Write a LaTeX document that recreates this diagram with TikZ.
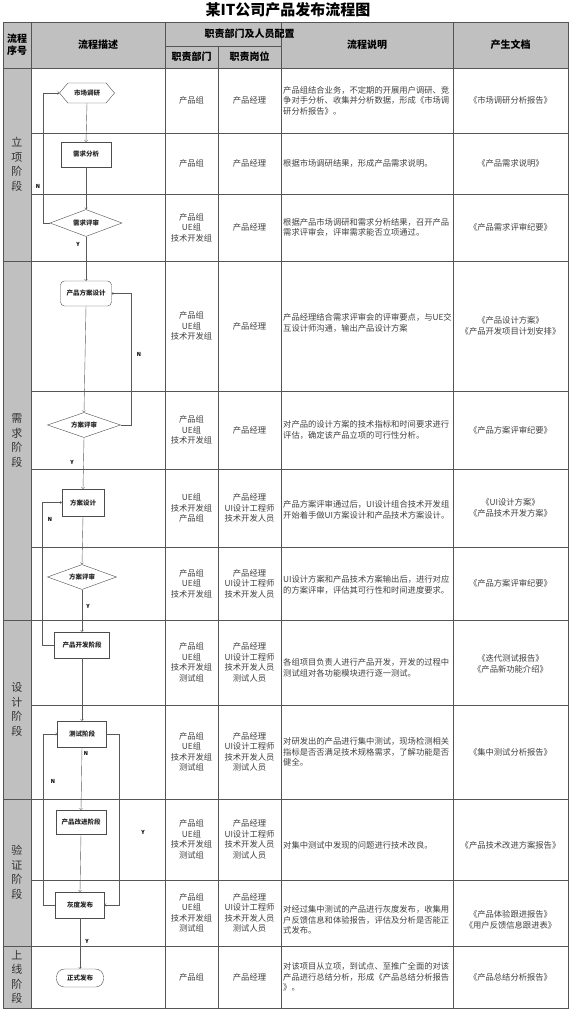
\documentclass[tikz,border=0pt]{standalone}
\usepackage{fontspec}
\setmainfont{Noto Sans CJK SC}
\usetikzlibrary{shapes.geometric,shapes.symbols}
\definecolor{headgray}{RGB}{192,192,192}
\definecolor{linegray}{RGB}{85,85,85}
\def\celltext{\fontsize{8.3}{10.5}\selectfont}
\def\flowtext{\fontsize{6.5}{7}\selectfont\bfseries}
\def\groups{产品组\\UE组\\技术开发组\\测试组}
\def\staff{产品经理\\UI设计工程师\\技术开发人员\\测试人员}

\begin{document}
\begin{tikzpicture}[x=1pt,y=-1pt,
    cell/.style={text=black!75, align=center, font=\celltext, inner sep=1pt},
    desc/.style={cell, align=left, anchor=west},
    head/.style={align=center, font=\fontsize{10}{12}\selectfont\bfseries},
    stage/.style={align=center, text=black!80, font=\fontsize{11}{14.5}\selectfont},
    procbox/.style={draw=black!70, fill=white, text=black!85, font=\flowtext, inner sep=0pt},
    decision/.style={procbox, diamond, aspect=2.7},
    marketbox/.style={procbox, signal, signal to=west and east, signal pointer angle=100},
    flowline/.style={draw=black!65, ->},
    yn/.style={font=\fontsize{5.5}{6}\selectfont\bfseries, inner sep=0pt}]
        \useasboundingbox (0,0) rectangle (577,1011);

        \node[font=\fontsize{15}{16}\selectfont\bfseries] (title) at (288,10) {某IT公司产品发布流程图};

        \begin{scope}
            \fill[headgray] (3,22) rectangle (568,68);
            \fill[headgray] (3,68) rectangle (31,1008);
        \end{scope}

        \begin{scope}[draw=linegray, line width=0.8pt]
            \draw (3,22) rectangle (568,1008);
            \draw (31,22) -- (31,1008);
            \draw (165,22) -- (165,1008);
            \draw (218,46) -- (218,1008);
            \draw (281,22) -- (281,1008);
            \draw (453,22) -- (453,1008);
            \draw (165,46) -- (281,46);
            \draw (3,68) -- (568,68);
            \draw (31,133) -- (568,133);
            \draw (31,194) -- (568,194);
            \draw (3,261) -- (568,261);
            \draw (31,391) -- (568,391);
            \draw (31,469) -- (568,469);
            \draw (31,547) -- (568,547);
            \draw (3,620) -- (568,620);
            \draw (31,705) -- (568,705);
            \draw (3,799) -- (568,799);
            \draw (31,880) -- (568,880);
            \draw (3,946) -- (568,946);
        \end{scope}

        \node[head] (hseq) at (17,45) {流程\\序号};
        \node[head] (hflow) at (98,45) {流程描述};
        \node[head] (hduty) at (249.5,34) {职责部门及人员配置};
        \node[head] (hdept) at (191.5,57) {职责部门};
        \node[head] (hpost) at (249.5,57) {职责岗位};
        \node[head] (hdesc) at (367,45) {流程说明};
        \node[head] (hdoc) at (510.5,45) {产生文档};

        \node[stage] (lixiang) at (17,164.5) {立\\项\\阶\\段};
        \node[stage] (xuqiu) at (17,440.5) {需\\求\\阶\\段};
        \node[stage] (sheji) at (17,709.5) {设\\计\\阶\\段};
        \node[stage] (yanzheng) at (17,872.5) {验\\证\\阶\\段};
        \node[stage] (shangxian) at (17,977) {上\\线\\阶\\段};

        \node[cell] (dept1) at (191.5,100.5) {产品组};
        \node[cell] (post1) at (249.5,100.5) {产品经理};
        \node[desc] (desc1) at (282,100.5) {产品组结合业务，不定期的开展用户调研、竞\\争对手分析、收集并分析数据，形成《市场调\\研分析报告》。};
        \node[cell] (doc1) at (510.5,100.5) {《市场调研分析报告》};

        \node[cell] (dept2) at (191.5,163.5) {产品组};
        \node[cell] (post2) at (249.5,163.5) {产品经理};
        \node[desc] (desc2) at (282,163.5) {根据市场调研结果，形成产品需求说明。};
        \node[cell] (doc2) at (510.5,163.5) {《产品需求说明》};

        \node[cell] (dept3) at (191.5,227.5) {产品组\\UE组\\技术开发组};
        \node[cell] (post3) at (249.5,227.5) {产品经理};
        \node[desc] (desc3) at (282,227.5) {根据产品市场调研和需求分析结果，召开产品\\需求评审会，评审需求能否立项通过。};
        \node[cell] (doc3) at (510.5,227.5) {《产品需求评审纪要》};

        \node[cell] (dept4) at (191.5,326) {产品组\\UE组\\技术开发组};
        \node[cell] (post4) at (249.5,326) {产品经理};
        \node[desc] (desc4) at (282,323) {产品经理结合需求评审会的评审要点，与UE交\\互设计师沟通，输出产品设计方案};
        \node[cell] (doc4) at (510.5,326) {《产品设计方案》\\《产品开发项目计划安排》};

        \node[cell] (dept5) at (191.5,430) {产品组\\UE组\\技术开发组};
        \node[cell] (post5) at (249.5,430) {产品经理};
        \node[desc] (desc5) at (282,430) {对产品的设计方案的技术指标和时间要求进行\\评估，确定该产品立项的可行性分析。};
        \node[cell] (doc5) at (510.5,430) {《产品方案评审纪要》};

        \node[cell] (dept6) at (191.5,508) {UE组\\技术开发组\\产品组};
        \node[cell] (post6) at (249.5,508) {产品经理\\UI设计工程师\\技术开发人员};
        \node[desc] (desc6) at (282,510) {产品方案评审通过后，UI设计组合技术开发组\\开始着手做UI方案设计和产品技术方案设计。};
        \node[cell] (doc6) at (510.5,508) {《UI设计方案》\\《产品技术开发方案》};

        \node[cell] (dept7) at (191.5,583.5) {产品组\\UE组\\技术开发组};
        \node[cell] (post7) at (249.5,583.5) {产品经理\\UI设计工程师\\技术开发人员};
        \node[desc] (desc7) at (282,585) {UI设计方案和产品技术方案输出后，进行对应\\的方案评审，评估其可行性和时间进度要求。};
        \node[cell] (doc7) at (510.5,583.5) {《产品方案评审纪要》};

        \node[cell] (dept8) at (191.5,662.5) {\groups};
        \node[cell] (post8) at (249.5,662.5) {\staff};
        \node[desc] (desc8) at (282,668) {各组项目负责人进行产品开发，开发的过程中\\测试组对各功能模块进行逐一测试。};
        \node[cell] (doc8) at (510.5,664) {《迭代测试报告》\\《产品新功能介绍》};

        \node[cell] (dept9) at (191.5,752) {\groups};
        \node[cell] (post9) at (249.5,752) {\staff};
        \node[desc] (desc9) at (282,752) {对研发出的产品进行集中测试，现场检测相关\\指标是否否满足技术规格需求，了解功能是否\\健全。};
        \node[cell] (doc9) at (510.5,752) {《集中测试分析报告》};

        \node[cell] (dept10) at (191.5,839.5) {\groups};
        \node[cell] (post10) at (249.5,839.5) {\staff};
        \node[desc] (desc10) at (282,845) {对集中测试中发现的问题进行技术改良。};
        \node[cell] (doc10) at (510.5,845) {《产品技术改进方案报告》};

        \node[cell] (dept11) at (191.5,913) {\groups};
        \node[cell] (post11) at (249.5,913) {\staff};
        \node[desc] (desc11) at (282,920) {对经过集中测试的产品进行灰度发布，收集用\\户反馈信息和体验报告，评估及分析是否能正\\式发布。};
        \node[cell] (doc11) at (510.5,920) {《产品体验跟进报告》\\《用户反馈信息跟进表》};

        \node[cell] (dept12) at (191.5,977) {产品组};
        \node[cell] (post12) at (249.5,977) {产品经理};
        \node[desc] (desc12) at (282,977) {对该项目从立项，到试点、至推广全面的对该\\产品进行总结分析，形成《产品总结分析报告\\》。};
        \node[cell] (doc12) at (510.5,977) {《产品总结分析报告》};

        \node[marketbox, minimum width=55pt, minimum height=20pt] (scdy) at (87,93) {市场调研};
        \node[procbox, minimum width=50pt, minimum height=25pt] (xqfx) at (86,154.5) {需求分析};
        \node[decision, minimum width=72pt, minimum height=27pt] (xqps) at (86,223) {需求评审};
        \node[procbox, rounded corners=4pt, minimum width=51pt, minimum height=25pt] (cpfa) at (86,293.5) {产品方案设计};
        \node[decision, minimum width=73pt, minimum height=25pt] (faps) at (84,425) {方案评审};
        \node[procbox, minimum width=42pt, minimum height=27pt] (fasj) at (83,502.5) {方案设计};
        \node[decision, minimum width=69pt, minimum height=25pt] (fapsb) at (82,577) {方案评审};
        \node[procbox, minimum width=55pt, minimum height=26pt] (kfjd) at (82,645) {产品开发阶段};
        \node[procbox, minimum width=49pt, minimum height=26pt] (csjd) at (82,734) {测试阶段};
        \node[procbox, minimum width=50pt, minimum height=24pt] (gjjd) at (81,822) {产品改进阶段};
        \node[procbox, minimum width=49pt, minimum height=26pt] (hdfb) at (80,905) {灰度发布};
        \node[procbox, rounded corners=8pt, minimum width=47pt, minimum height=18pt] (zsfb) at (80,978) {正式发布};

        \coordinate (kfleft) at (42,645);
        \coordinate (hdleft) at (43,905);

        \draw[flowline] (scdy.south) -- (xqfx.north);
        \draw[flowline] (xqfx.south) -- (xqps.north);
        \draw[flowline] (xqps.south) -- (cpfa.north);
        \draw[flowline] (xqps.west) -- ++(-7,0) |- (scdy.west);
        \draw[flowline] (cpfa.south) -- (faps.north);
        \draw[flowline] (faps.east) -- ++(10,0) |- (cpfa.east);
        \draw[flowline] (faps.south) -- (fasj.north);
        \draw[flowline] (fasj.south) -- (fapsb.north);
        \draw[flowline] (fapsb.south) -- (kfjd.north);
        \draw[flowline] (kfjd.west) -- (kfleft) |- (fasj.west);
        \draw[flowline] (kfjd.south) -- (csjd.north);
        \draw[flowline] (csjd.south) -- (gjjd.north);
        \draw[flowline] (csjd.east) -- ++(12,0) |- (hdfb.east);
        \draw[flowline] (hdfb.west) -- (hdleft) |- (csjd.west);
        \draw[flowline] (gjjd.south) -- (hdfb.north);
        \draw[flowline] (hdfb.south) -- (zsfb.north);

        \node[yn] (n1) at (38,186) {N};
        \node[yn] (y1) at (78,244) {Y};
        \node[yn] (n2) at (139,354) {N};
        \node[yn] (y2) at (72,462) {Y};
        \node[yn] (n3) at (50,519) {N};
        \node[yn] (y3) at (88,606) {Y};
        \node[yn] (n4) at (86,753) {N};
        \node[yn] (n5) at (53,781) {N};
        \node[yn] (y4) at (143,832) {Y};
        \node[yn] (y5) at (87,941) {Y};
    \end{tikzpicture}
\end{document}
